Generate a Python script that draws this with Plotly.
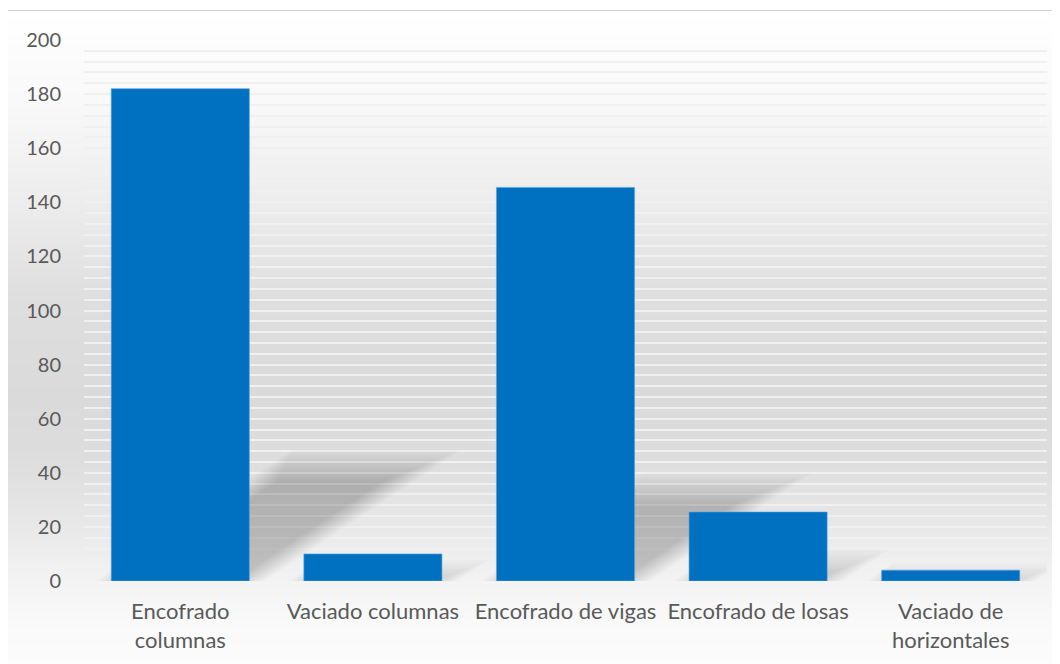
import plotly.graph_objects as go
import numpy as np

# ---- data ----
categories = ["Encofrado<br>columnas", "Vaciado columnas", "Encofrado de vigas",
              "Encofrado de losas", "Vaciado de<br>horizontales"]
values = [182, 10, 145.5, 25.5, 4]
y_tick_values = list(range(0, 201, 20))

# ---- geometry (px, page coords; page body has 8px margin) ----
OFF = 8
W, H = 1060 - OFF, 664 - OFF
ML, MR, MT, MB = 84 - OFF, 13, 40 - OFF, 83
PW, PH = W - ML - MR, H - MT - MB
BARGAP = 0.283
BAR_BLUE = "#0070C0"
TEXT = "#595959"
FONT = "Lato"

def px_to_paper_y(ypx):  # ypx in page coords
    return (OFF + H - MB - ypx) / PH

def px_to_paper_x(xpx):
    return (xpx - OFF - ML) / PW

fig = go.Figure()

# ---- soft shadows (derived from data) ----
half_w = (1 - BARGAP) / 2
px_per_cat = PW / len(categories)
px_per_unit = PH / 200.0
shadow_scale = 0.235
shear = 1.5 * px_per_unit / px_per_cat  # category units per y unit
for i, v in enumerate(values):
    h = shadow_scale * v
    for e in range(-16, 17, 2):
        ex = e / px_per_cat
        ey = e / px_per_unit
        hh = max(h + ey, 0)
        dxx = shear * hh
        xs = [i - half_w - ex, i + half_w + ex, i + half_w + ex + dxx, i - half_w - ex + dxx, i - half_w - ex]
        ys = [0, 0, hh, hh, 0]
        fig.add_trace(go.Scatter(x=xs, y=ys, mode="lines", fill="toself",
                                 fillcolor="rgba(0,0,0,0.013)", line=dict(width=0),
                                 hoverinfo="skip", showlegend=False))

fig.add_trace(go.Bar(x=list(range(len(categories))), y=values, marker=dict(color=BAR_BLUE,
                     line=dict(color="rgba(90,160,220,0.6)", width=1)),
                     showlegend=False, zorder=1))

# ---- gradient background ----
stops_y = [10, 100, 200, 300, 400, 460, 520, 580, 620, 664]
stops_g = [255, 249, 237, 222, 218, 221, 231, 243, 249, 252]
shapes = []
step = 4
for y0 in range(10, 664 + step, step):
    g = int(round(np.interp(y0 + step / 2, stops_y, stops_g)))
    shapes.append(dict(type="rect", xref="paper", yref="paper", layer="below",
                       x0=px_to_paper_x(7), x1=px_to_paper_x(1070),
                       y0=px_to_paper_y(y0 + step), y1=px_to_paper_y(y0),
                       fillcolor=f"rgb({g},{g},{g})", line=dict(width=0)))
# chart border
shapes.append(dict(type="rect", xref="paper", yref="paper", layer="above",
                   x0=px_to_paper_x(7.5), x1=px_to_paper_x(1075),
                   y0=px_to_paper_y(680), y1=px_to_paper_y(10.5),
                   fillcolor="rgba(0,0,0,0)", line=dict(color="#d4d4d4", width=1)))

fig.update_layout(
    width=W, height=H,
    margin=dict(l=ML, r=MR, t=MT, b=MB, autoexpand=False),
    paper_bgcolor="white",
    plot_bgcolor="rgba(0,0,0,0)",
    bargap=BARGAP,
    shapes=shapes,
    font=dict(family=FONT, size=20, color=TEXT),
    xaxis=dict(range=[-0.5, len(categories) - 0.5], tickmode="array",
               tickvals=list(range(len(categories))), ticktext=categories,
               showgrid=False, zeroline=False, showline=False, ticks="",
               ticklabelstandoff=15, automargin=False,
               tickfont=dict(family=FONT, size=22, color=TEXT)),
    yaxis=dict(range=[0, 200], tickmode="array", tickvals=y_tick_values,
               showgrid=True, gridcolor="#f0f0f0", gridwidth=1.5,
               zeroline=False, showline=False, ticks="",
               ticklabelstandoff=22, automargin=False,
               tickfont=dict(family=FONT, size=20, color=TEXT),
               minor=dict(dtick=4, tick0=0, showgrid=True, gridcolor="#f0f0f0", gridwidth=1.5)),
)

fig.write_html("out.html")
